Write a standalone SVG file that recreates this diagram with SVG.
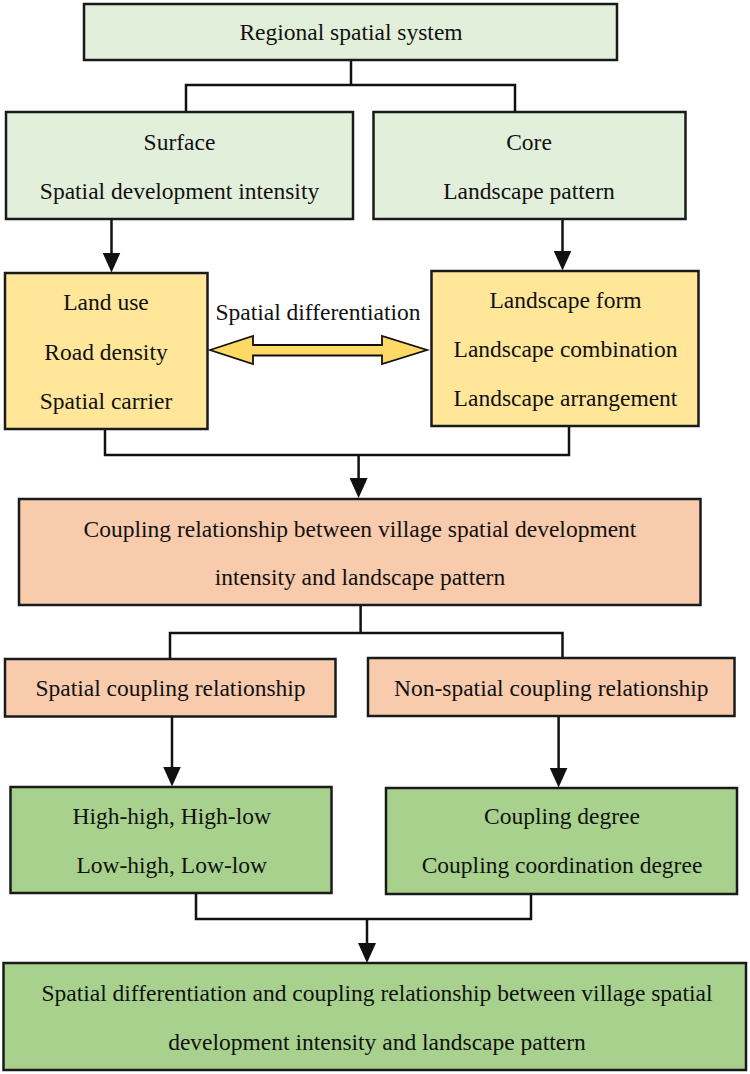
<svg xmlns="http://www.w3.org/2000/svg" width="750" height="1074" viewBox="0 0 750 1074">
  <defs>
    <style>
      .box { stroke: #1a1a1a; stroke-width: 2.5; }
      .g1 { fill: #E2EFDA; }
      .y1 { fill: #FFE699; }
      .s1 { fill: #F8CBAD; }
      .g2 { fill: #A9D18E; }
      text { font-family: 'Liberation Serif', Tinos, 'DejaVu Serif', serif; font-size: 23.5px; fill: #111; text-anchor: middle; }
      .wire { fill: none; stroke: #111; stroke-width: 2.5; }
      .arrow { fill: none; stroke: #111; stroke-width: 2.5; marker-end: url(#head); }
    </style>
    <marker id="head" viewBox="0 0 20 18" markerWidth="20" markerHeight="18" refX="12" refY="9" orient="auto" markerUnits="userSpaceOnUse">
      <path d="M0,0 L20,9 L0,18 Z" fill="#111"/>
    </marker>
  </defs>

  <rect width="750" height="1074" fill="#ffffff"/>

  <!-- connectors -->
  <g id="connectors">
    <polyline class="wire" points="351,60 351,85"/>
    <polyline class="wire" points="186,112 186,85 515,85 515,112"/>
    <line class="arrow" x1="111.5" y1="219" x2="111.5" y2="264.5"/>
    <line class="arrow" x1="562.5" y1="219" x2="562.5" y2="262.5"/>
    <polyline class="wire" points="105,429 105,455 569,455 569,426"/>
    <line class="arrow" x1="358.6" y1="455" x2="358.6" y2="490"/>
    <polyline class="wire" points="360.6,605 360.6,633"/>
    <polyline class="wire" points="170,659 170,633 562.5,633 562.5,658"/>
    <line class="arrow" x1="172" y1="717" x2="172" y2="778.5"/>
    <line class="arrow" x1="558.6" y1="716" x2="558.6" y2="779.5"/>
    <polyline class="wire" points="196,893 196,919 531,919 531,894"/>
    <line class="arrow" x1="367" y1="919" x2="367" y2="955"/>
    <!-- two-way arrow between the yellow boxes -->
    <polygon points="210,350 253,336 253,345 382,345 382,336 427,350 382,364 382,355.5 253,355.5 253,364" fill="#FFD966" stroke="#111" stroke-width="1.8" stroke-linejoin="miter"/>
    <text x="318" y="320">Spatial differentiation</text>
  </g>

  <g id="regional">
    <rect class="box g1" x="84" y="4" width="533" height="56"/>
    <text x="351" y="40">Regional spatial system</text>
  </g>

  <g id="surface">
    <rect class="box g1" x="6" y="112" width="347" height="107"/>
    <text x="179.5" y="150">Surface</text>
    <text x="179.5" y="199">Spatial development intensity</text>
  </g>

  <g id="core">
    <rect class="box g1" x="373.5" y="112" width="312" height="107"/>
    <text x="529" y="150">Core</text>
    <text x="529" y="199">Landscape pattern</text>
  </g>

  <g id="land-factors">
    <rect class="box y1" x="5" y="273" width="202.5" height="156"/>
    <text x="106" y="310">Land use</text>
    <text x="106" y="360">Road density</text>
    <text x="106" y="409">Spatial carrier</text>
  </g>

  <g id="landscape-factors">
    <rect class="box y1" x="431.5" y="271" width="267" height="155"/>
    <text x="565.5" y="308">Landscape form</text>
    <text x="565.5" y="357">Landscape combination</text>
    <text x="565.5" y="406">Landscape arrangement</text>
  </g>

  <g id="coupling">
    <rect class="box s1" x="19" y="499" width="681.5" height="106"/>
    <text x="360" y="537">Coupling relationship between village spatial development</text>
    <text x="360" y="585">intensity and landscape pattern</text>
  </g>

  <g id="spatial-coupling">
    <rect class="box s1" x="5" y="659" width="330.5" height="57.5"/>
    <text x="170.5" y="696">Spatial coupling relationship</text>
  </g>

  <g id="non-spatial-coupling">
    <rect class="box s1" x="368" y="658" width="366.5" height="58"/>
    <text x="551.3" y="696">Non-spatial coupling relationship</text>
  </g>

  <g id="cluster-types">
    <rect class="box g2" x="10.5" y="787" width="321" height="106"/>
    <text x="171.7" y="824">High-high, High-low</text>
    <text x="171.7" y="873">Low-high, Low-low</text>
  </g>

  <g id="coupling-degree">
    <rect class="box g2" x="386" y="788" width="351" height="106"/>
    <text x="562" y="824">Coupling degree</text>
    <text x="562" y="873">Coupling coordination degree</text>
  </g>

  <g id="result">
    <rect class="box g2" x="3.5" y="963" width="742.5" height="107"/>
    <text x="377" y="1001">Spatial differentiation and coupling relationship between village spatial</text>
    <text x="377" y="1050">development intensity and landscape pattern</text>
  </g>
</svg>
